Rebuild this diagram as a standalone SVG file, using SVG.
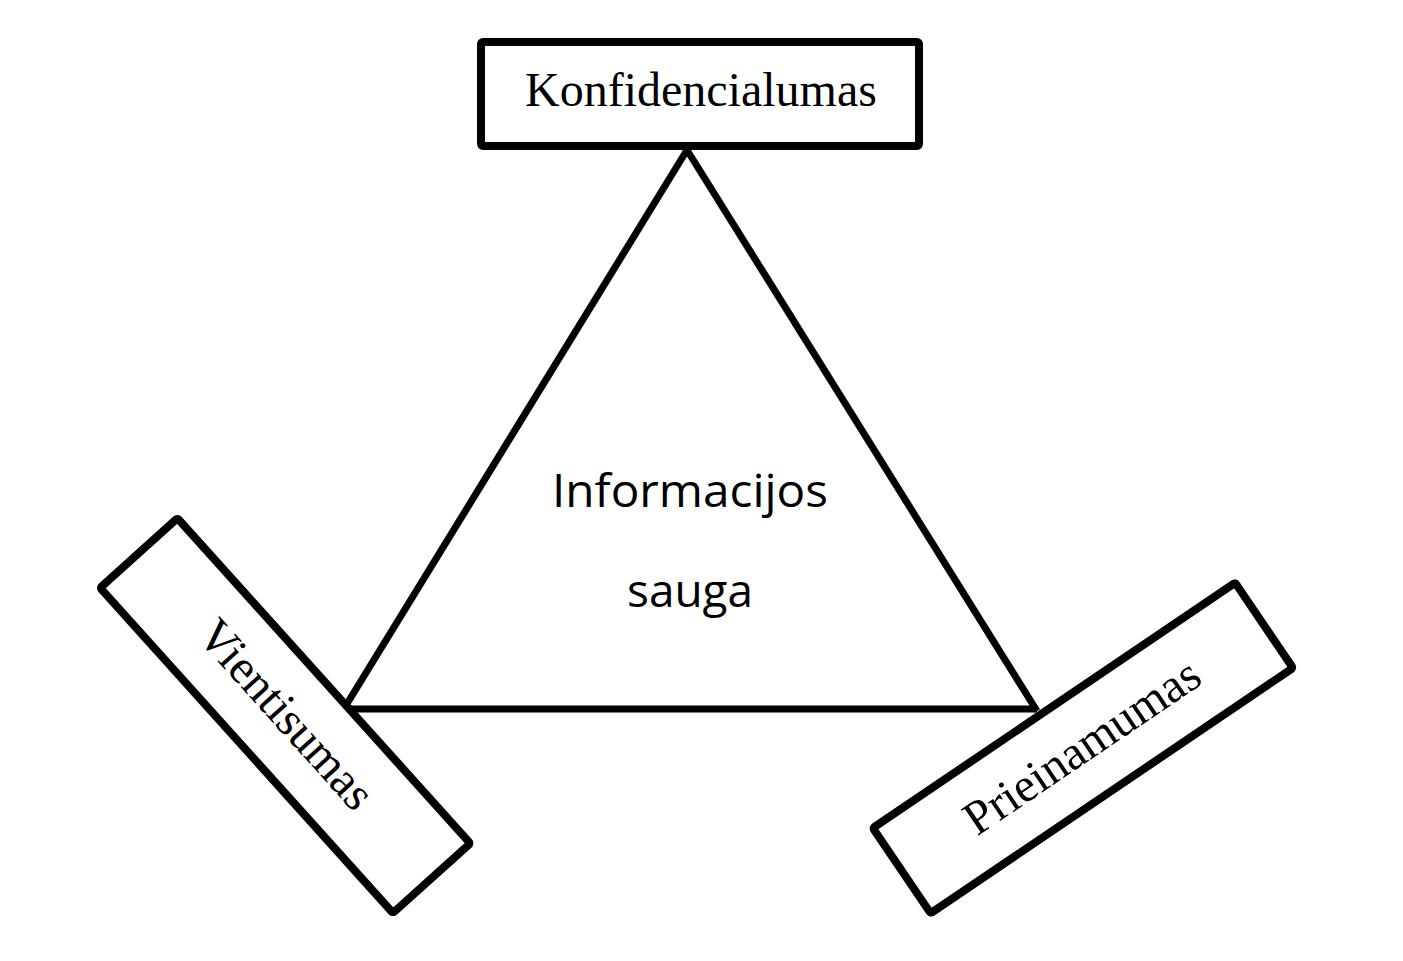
<svg xmlns="http://www.w3.org/2000/svg" width="1403" height="961" viewBox="0 0 1403 961">
<style>
.box{fill:#fff;stroke:#000;stroke-width:8;stroke-linejoin:round}
.edge{fill:none;stroke:#000;stroke-width:7;stroke-linecap:butt}
.serif{font-family:"Liberation Serif","Times New Roman",serif;font-size:48px;fill:#000;text-anchor:middle}
.sans{font-family:"Open Sans","Noto Sans",sans-serif;font-size:45px;fill:#000;text-anchor:middle}
</style>
<rect width="1403" height="961" fill="#fff"/>
<g id="connectors">
<line class="edge" x1="687" y1="150" x2="345" y2="707"/>
<line class="edge" x1="687" y1="150" x2="1037" y2="711"/>
<line class="edge" x1="345" y1="709" x2="1037" y2="709"/>
</g>
<g id="center">
<text class="sans" x="690" y="507" textLength="276" lengthAdjust="spacingAndGlyphs">Informacijos</text>
<text class="sans" x="690" y="607" textLength="126" lengthAdjust="spacingAndGlyphs">sauga</text>
</g>
<g id="konfidencialumas">
<rect class="box" x="481" y="42" width="438" height="104" rx="2"/>
<text class="serif" x="701" y="106">Konfidencialumas</text>
</g>
<g id="vientisumas" transform="translate(285.2,715.6) rotate(48)">
<rect class="box" x="-218.75" y="-52" width="437.5" height="104" rx="2"/>
<text class="serif" x="0" y="14">Vientisumas</text>
</g>
<g id="prieinamumas" transform="translate(1082.9,748) rotate(-34.1)">
<rect class="box" x="-218.75" y="-51.5" width="437.5" height="103" rx="2"/>
<text class="serif" x="0" y="14">Prieinamumas</text>
</g>
</svg>
